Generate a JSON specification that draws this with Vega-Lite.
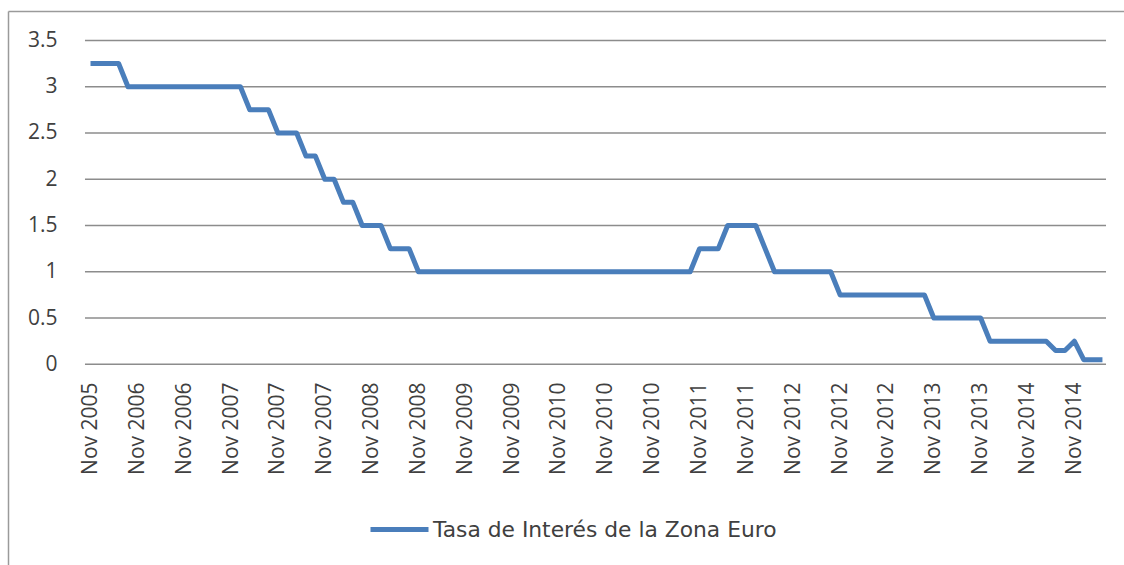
{
  "$schema": "https://vega.github.io/schema/vega-lite/v6.json",
  "autosize": {"type": "none"},
  "padding": {"left": 8, "top": 11, "right": 0, "bottom": 0},
  "width": 1116,
  "height": 554,
  "background": "white",
  "config": {
    "view": {"stroke": null},
    "font": "Open Sans",
    "axis": {"labelFont": "Open Sans", "labelFontSize": 21, "labelColor": "#404040"},
    "legend": {"labelFont": "DejaVu Sans", "labelFontSize": 21.8, "labelColor": "#404040"}
  },
  "datasets": {
    "rejilla": [
      {"nivel": 0}, {"nivel": 0.5}, {"nivel": 1}, {"nivel": 1.5},
      {"nivel": 2}, {"nivel": 2.5}, {"nivel": 3}, {"nivel": 3.5}
    ],
    "serie": [
      {"m": 0, "tasa": 3.25}, {"m": 1, "tasa": 3.25}, {"m": 2, "tasa": 3.25}, {"m": 3, "tasa": 3.25},
      {"m": 4, "tasa": 3.0}, {"m": 5, "tasa": 3.0}, {"m": 6, "tasa": 3.0}, {"m": 7, "tasa": 3.0},
      {"m": 8, "tasa": 3.0}, {"m": 9, "tasa": 3.0}, {"m": 10, "tasa": 3.0}, {"m": 11, "tasa": 3.0},
      {"m": 12, "tasa": 3.0}, {"m": 13, "tasa": 3.0}, {"m": 14, "tasa": 3.0}, {"m": 15, "tasa": 3.0},
      {"m": 16, "tasa": 3.0},
      {"m": 17, "tasa": 2.75}, {"m": 18, "tasa": 2.75}, {"m": 19, "tasa": 2.75},
      {"m": 20, "tasa": 2.5}, {"m": 21, "tasa": 2.5}, {"m": 22, "tasa": 2.5},
      {"m": 23, "tasa": 2.25}, {"m": 24, "tasa": 2.25},
      {"m": 25, "tasa": 2.0}, {"m": 26, "tasa": 2.0},
      {"m": 27, "tasa": 1.75}, {"m": 28, "tasa": 1.75},
      {"m": 29, "tasa": 1.5}, {"m": 30, "tasa": 1.5}, {"m": 31, "tasa": 1.5},
      {"m": 32, "tasa": 1.25}, {"m": 33, "tasa": 1.25}, {"m": 34, "tasa": 1.25},
      {"m": 35, "tasa": 1.0}, {"m": 36, "tasa": 1.0}, {"m": 37, "tasa": 1.0}, {"m": 38, "tasa": 1.0},
      {"m": 39, "tasa": 1.0}, {"m": 40, "tasa": 1.0}, {"m": 41, "tasa": 1.0}, {"m": 42, "tasa": 1.0},
      {"m": 43, "tasa": 1.0}, {"m": 44, "tasa": 1.0}, {"m": 45, "tasa": 1.0}, {"m": 46, "tasa": 1.0},
      {"m": 47, "tasa": 1.0}, {"m": 48, "tasa": 1.0}, {"m": 49, "tasa": 1.0}, {"m": 50, "tasa": 1.0},
      {"m": 51, "tasa": 1.0}, {"m": 52, "tasa": 1.0}, {"m": 53, "tasa": 1.0}, {"m": 54, "tasa": 1.0},
      {"m": 55, "tasa": 1.0}, {"m": 56, "tasa": 1.0}, {"m": 57, "tasa": 1.0}, {"m": 58, "tasa": 1.0},
      {"m": 59, "tasa": 1.0}, {"m": 60, "tasa": 1.0}, {"m": 61, "tasa": 1.0}, {"m": 62, "tasa": 1.0},
      {"m": 63, "tasa": 1.0}, {"m": 64, "tasa": 1.0},
      {"m": 65, "tasa": 1.25}, {"m": 66, "tasa": 1.25}, {"m": 67, "tasa": 1.25},
      {"m": 68, "tasa": 1.5}, {"m": 69, "tasa": 1.5}, {"m": 70, "tasa": 1.5}, {"m": 71, "tasa": 1.5},
      {"m": 72, "tasa": 1.25},
      {"m": 73, "tasa": 1.0}, {"m": 74, "tasa": 1.0}, {"m": 75, "tasa": 1.0}, {"m": 76, "tasa": 1.0},
      {"m": 77, "tasa": 1.0}, {"m": 78, "tasa": 1.0}, {"m": 79, "tasa": 1.0},
      {"m": 80, "tasa": 0.75}, {"m": 81, "tasa": 0.75}, {"m": 82, "tasa": 0.75}, {"m": 83, "tasa": 0.75},
      {"m": 84, "tasa": 0.75}, {"m": 85, "tasa": 0.75}, {"m": 86, "tasa": 0.75}, {"m": 87, "tasa": 0.75},
      {"m": 88, "tasa": 0.75}, {"m": 89, "tasa": 0.75},
      {"m": 90, "tasa": 0.5}, {"m": 91, "tasa": 0.5}, {"m": 92, "tasa": 0.5}, {"m": 93, "tasa": 0.5},
      {"m": 94, "tasa": 0.5}, {"m": 95, "tasa": 0.5},
      {"m": 96, "tasa": 0.25}, {"m": 97, "tasa": 0.25}, {"m": 98, "tasa": 0.25}, {"m": 99, "tasa": 0.25},
      {"m": 100, "tasa": 0.25}, {"m": 101, "tasa": 0.25}, {"m": 102, "tasa": 0.25},
      {"m": 103, "tasa": 0.15}, {"m": 104, "tasa": 0.15},
      {"m": 105, "tasa": 0.25},
      {"m": 106, "tasa": 0.05}, {"m": 107, "tasa": 0.05}, {"m": 108, "tasa": 0.05}
    ]
  },
  "layer": [
    {
      "data": {"name": "rejilla"},
      "mark": {"type": "rule", "color": "#8c8c8c", "strokeWidth": 1.5},
      "encoding": {
        "y": {
          "field": "nivel", "type": "quantitative",
          "scale": {"domain": [-2.169, 3.818], "nice": false, "zero": false},
          "axis": {"orient": "left", "offset": 0, "domain": true, "domainColor": "#9a9a9a", "domainWidth": 1.5,
                   "labels": false, "ticks": false, "grid": false, "title": null}
        },
        "x": {
          "datum": -0.59, "type": "quantitative",
          "scale": {"domain": [-8.805, 110.3], "nice": false, "zero": false},
          "axis": {"orient": "top", "offset": 0, "domain": true, "domainColor": "#9a9a9a", "domainWidth": 1.5,
                   "labels": false, "ticks": false, "grid": false, "title": null}
        },
        "x2": {"datum": 108.38}
      }
    },
    {
      "data": {"name": "serie"},
      "mark": {"type": "line", "strokeWidth": 5, "strokeCap": "butt", "strokeJoin": "round"},
      "encoding": {
        "x": {
          "field": "m", "type": "quantitative",
          "scale": {"domain": [-8.805, 110.3], "nice": false, "zero": false},
          "axis": {
            "orient": "bottom", "offset": -183, "domain": false, "ticks": false, "tickSize": 0,
            "grid": false, "title": null, "labelPadding": 0, "labelAngle": -90,
            "labelAlign": "right", "labelBaseline": "middle", "labelOverlap": false,
            "values": [0, 5, 10, 15, 20, 25, 30, 35, 40, 45, 50, 55, 60, 65, 70, 75, 80, 85, 90, 95, 100, 105],
            "labelExpr": "['Nov 2005','Nov 2006','Nov 2006','Nov 2007','Nov 2007','Nov 2007','Nov 2008','Nov 2008','Nov 2009','Nov 2009','Nov 2010','Nov 2010','Nov 2010','Nov 2011','Nov 2011','Nov 2012','Nov 2012','Nov 2012','Nov 2013','Nov 2013','Nov 2014','Nov 2014'][round(datum.value/5)]"
          }
        },
        "y": {
          "field": "tasa", "type": "quantitative",
          "scale": {"domain": [-2.169, 3.818], "nice": false, "zero": false},
          "axis": {
            "orient": "left", "offset": -49, "domain": false, "ticks": false, "tickSize": 0,
            "grid": false, "title": null, "labelPadding": 0,
            "values": [0, 0.5, 1, 1.5, 2, 2.5, 3, 3.5],
            "labelExpr": "datum.value == 0 ? '0' : format(datum.value, '.1~f')"
          }
        },
        "color": {
          "datum": "Tasa de Interés de la Zona Euro",
          "scale": {"range": ["#4a7ebb"]},
          "legend": {
            "title": null, "orient": "none", "legendX": 360, "legendY": 487,
            "padding": 0, "symbolType": "stroke", "symbolSize": 3364,
            "symbolStrokeWidth": 5, "labelOffset": 2, "labelLimit": 0
          }
        }
      }
    }
  ],
  "resolve": {"axis": {"x": "independent", "y": "independent"}}
}
